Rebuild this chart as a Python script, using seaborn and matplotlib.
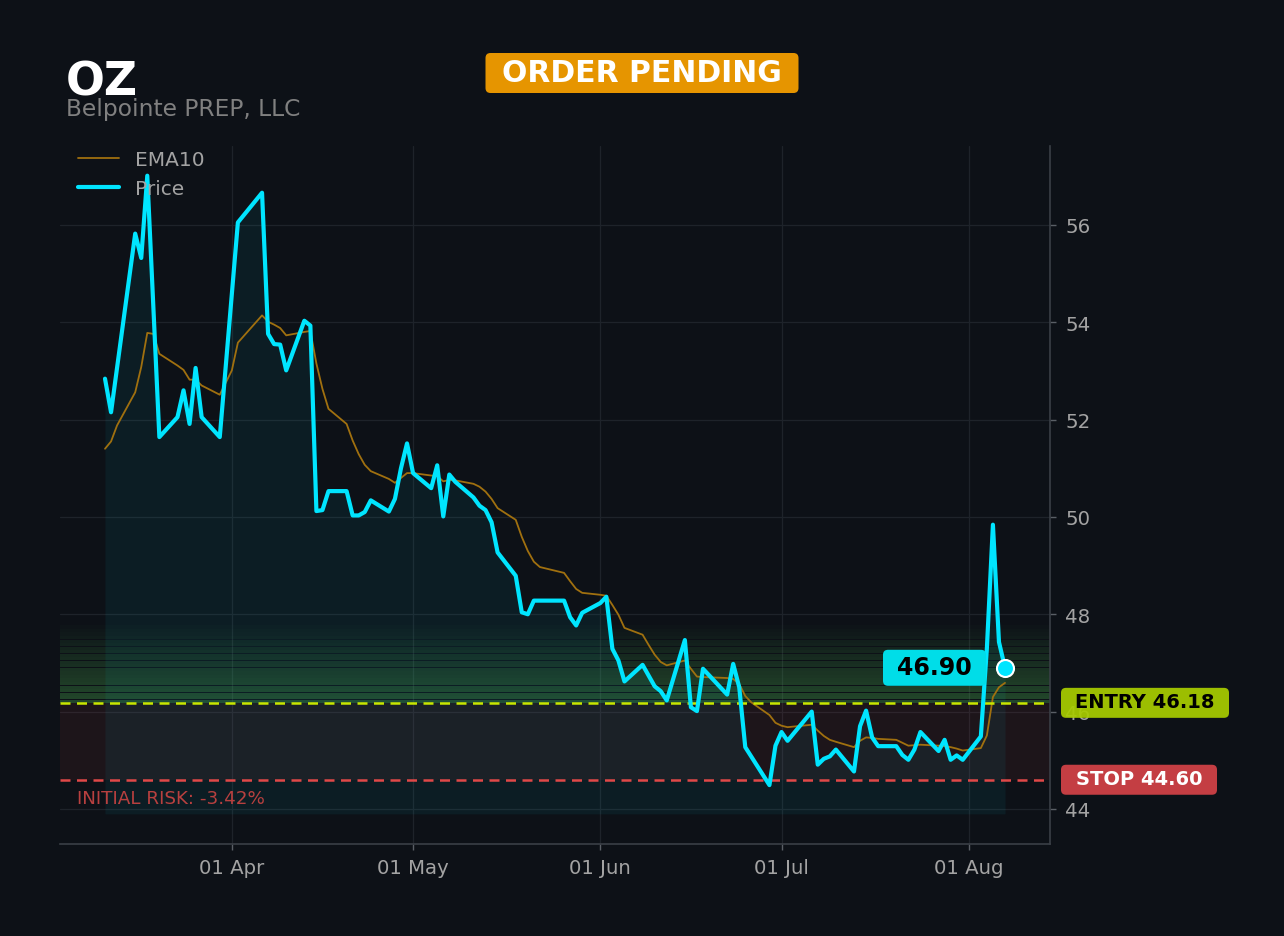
import matplotlib
matplotlib.use("Agg")
import numpy as np
import pandas as pd
import matplotlib.pyplot as plt
import matplotlib.dates as mdates
from matplotlib.patches import FancyBboxPatch
from matplotlib.transforms import IdentityTransform
import seaborn as sns

# ---------------- data ----------------
ticker = "OZ"
company = "Belpointe PREP, LLC"
status = "ORDER PENDING"
entry_price = 46.18
stop_price = 44.60
last_price = 46.90
fill_floor = 43.9

price_dates = [
    "2026-03-11", "2026-03-12", "2026-03-16", "2026-03-17", "2026-03-18", "2026-03-20",
    "2026-03-23", "2026-03-24", "2026-03-25", "2026-03-26", "2026-03-27", "2026-03-30",
    "2026-04-02", "2026-04-06", "2026-04-07", "2026-04-08", "2026-04-09", "2026-04-10",
    "2026-04-13", "2026-04-14", "2026-04-15", "2026-04-16", "2026-04-17", "2026-04-20",
    "2026-04-21", "2026-04-22", "2026-04-23", "2026-04-24", "2026-04-27", "2026-04-28",
    "2026-04-29", "2026-04-30", "2026-05-01", "2026-05-04", "2026-05-05", "2026-05-06",
    "2026-05-07", "2026-05-08", "2026-05-11", "2026-05-12", "2026-05-13", "2026-05-14",
    "2026-05-15", "2026-05-18", "2026-05-19", "2026-05-20", "2026-05-21", "2026-05-22",
    "2026-05-26", "2026-05-27", "2026-05-28", "2026-05-29", "2026-06-01", "2026-06-02",
    "2026-06-03", "2026-06-04", "2026-06-05", "2026-06-08", "2026-06-10", "2026-06-11",
    "2026-06-12", "2026-06-15", "2026-06-16", "2026-06-17", "2026-06-18", "2026-06-22",
    "2026-06-23", "2026-06-24", "2026-06-25", "2026-06-29", "2026-06-30", "2026-07-01",
    "2026-07-02", "2026-07-06", "2026-07-07", "2026-07-08", "2026-07-09", "2026-07-10",
    "2026-07-13", "2026-07-14", "2026-07-15", "2026-07-16", "2026-07-17", "2026-07-20",
    "2026-07-21", "2026-07-22", "2026-07-23", "2026-07-24", "2026-07-27", "2026-07-28",
    "2026-07-29", "2026-07-30", "2026-07-31", "2026-08-03", "2026-08-04", "2026-08-05",
    "2026-08-06", "2026-08-07",
]
price_values = [
    52.84, 52.15, 55.82, 55.32, 57.01, 51.64,
    52.05, 52.60, 51.91, 53.06, 52.05, 51.64,
    56.05, 56.66, 53.76, 53.55, 53.54, 53.01,
    54.03, 53.93, 50.12, 50.14, 50.53, 50.53,
    50.03, 50.03, 50.10, 50.34, 50.11, 50.37,
    51.00, 51.51, 50.90, 50.59, 51.06, 50.01,
    50.87, 50.72, 50.40, 50.23, 50.14, 49.89,
    49.27, 48.79, 48.04, 48.00, 48.28, 48.28,
    48.28, 47.94, 47.77, 48.03, 48.23, 48.36,
    47.29, 47.05, 46.62, 46.96, 46.52, 46.42,
    46.23, 47.47, 46.09, 46.01, 46.88, 46.35,
    46.98, 46.50, 45.27, 44.49, 45.30, 45.58,
    45.40, 46.00, 44.91, 45.03, 45.08, 45.22,
    44.77, 45.70, 46.02, 45.47, 45.29, 45.29,
    45.11, 45.01, 45.22, 45.58, 45.19, 45.42,
    45.01, 45.10, 45.01, 45.49, 47.30, 49.84,
    47.43, 46.90,
]

ema_dates = [
    "2026-03-11", "2026-03-12", "2026-03-13", "2026-03-16", "2026-03-17", "2026-03-18",
    "2026-03-19", "2026-03-20", "2026-03-23", "2026-03-24", "2026-03-25", "2026-03-26",
    "2026-03-27", "2026-03-30", "2026-04-01", "2026-04-02", "2026-04-06", "2026-04-07",
    "2026-04-08", "2026-04-09", "2026-04-10", "2026-04-13", "2026-04-14", "2026-04-15",
    "2026-04-16", "2026-04-17", "2026-04-20", "2026-04-21", "2026-04-22", "2026-04-23",
    "2026-04-24", "2026-04-27", "2026-04-28", "2026-04-29", "2026-04-30", "2026-05-01",
    "2026-05-04", "2026-05-05", "2026-05-06", "2026-05-07", "2026-05-08", "2026-05-11",
    "2026-05-12", "2026-05-13", "2026-05-14", "2026-05-15", "2026-05-18", "2026-05-19",
    "2026-05-20", "2026-05-21", "2026-05-22", "2026-05-26", "2026-05-27", "2026-05-28",
    "2026-05-29", "2026-06-01", "2026-06-02", "2026-06-03", "2026-06-04", "2026-06-05",
    "2026-06-08", "2026-06-09", "2026-06-10", "2026-06-11", "2026-06-12", "2026-06-15",
    "2026-06-16", "2026-06-17", "2026-06-18", "2026-06-22", "2026-06-23", "2026-06-24",
    "2026-06-25", "2026-06-26", "2026-06-29", "2026-06-30", "2026-07-01", "2026-07-02",
    "2026-07-06", "2026-07-07", "2026-07-08", "2026-07-09", "2026-07-10", "2026-07-13",
    "2026-07-14", "2026-07-15", "2026-07-16", "2026-07-17", "2026-07-20", "2026-07-21",
    "2026-07-22", "2026-07-23", "2026-07-24", "2026-07-27", "2026-07-28", "2026-07-29",
    "2026-07-30", "2026-07-31", "2026-08-03", "2026-08-04", "2026-08-05", "2026-08-06",
    "2026-08-07",
]
ema_values = [
    51.40, 51.55, 51.88, 52.56, 53.08, 53.78,
    53.76, 53.35, 53.11, 53.02, 52.82, 52.82,
    52.70, 52.51, 53.01, 53.58, 54.14, 54.01,
    53.95, 53.88, 53.73, 53.80, 53.82, 53.15,
    52.63, 52.22, 51.91, 51.57, 51.29, 51.07,
    50.94, 50.78, 50.70, 50.80, 50.90, 50.90,
    50.85, 50.84, 50.73, 50.76, 50.75, 50.68,
    50.62, 50.52, 50.37, 50.18, 49.94, 49.59,
    49.30, 49.08, 48.97, 48.85, 48.68, 48.52,
    48.44, 48.40, 48.38, 48.19, 47.99, 47.72,
    47.58, 47.37, 47.17, 47.02, 46.95, 47.05,
    46.88, 46.72, 46.71, 46.69, 46.67, 46.57,
    46.32, 46.19, 45.93, 45.77, 45.71, 45.68,
    45.73, 45.61, 45.50, 45.42, 45.38, 45.27,
    45.40, 45.47, 45.46, 45.44, 45.42, 45.36,
    45.30, 45.31, 45.32, 45.30, 45.29, 45.27,
    45.24, 45.20, 45.25, 45.51, 46.30, 46.50,
    46.59,
]

price_df = pd.DataFrame({"date": pd.to_datetime(price_dates), "price": price_values})
ema_df = pd.DataFrame({"date": pd.to_datetime(ema_dates), "ema": ema_values})

# ---------------- style ----------------
BG = "#0d1117"
GRID = "#1e232a"
TICK = "#a3a3a3"
CYAN = "#00e5ff"
EMA_C = "#a0700f"
ENTRY_C = "#c8e600"
STOP_C = "#e04848"

sns.set_theme(style="dark")
plt.rcParams["font.family"] = ["DejaVu Sans"]

W, H = 1284, 937
fig = plt.figure(figsize=(W / 100, H / 100), dpi=100, facecolor=BG)
ax = fig.add_axes([60 / W, 1 - 845 / H, 990 / W, 698 / H])
ax.set_facecolor(BG)

# zones
ax.axhspan(stop_price, entry_price, color="#e04545", alpha=0.08, lw=0, zorder=1)
n_bands = 22
band_top = entry_price + 1.6
edges = np.linspace(entry_price, band_top, n_bands + 1)
gap = (band_top - entry_price) / n_bands * 0.12
for i in range(n_bands):
    a = 0.34 * (1 - i / n_bands) ** 0.9
    ax.axhspan(edges[i], edges[i + 1] - gap, color="#4caf50", alpha=a, lw=0, zorder=1)

# price area
ax.fill_between(price_df["date"], price_df["price"], fill_floor, color=CYAN,
                alpha=0.06, lw=0, zorder=2)

sns.lineplot(data=ema_df, x="date", y="ema", ax=ax, color=EMA_C, lw=1.3,
             label="EMA10", zorder=3)
sns.lineplot(data=price_df, x="date", y="price", ax=ax, color=CYAN, lw=3.0,
             label="Price", zorder=5)

ax.axhline(entry_price, color=ENTRY_C, lw=1.8, ls=(0, (4, 2.6)), zorder=4)
ax.axhline(stop_price, color=STOP_C, lw=1.8, ls=(0, (4, 2.6)), zorder=4)

ax.scatter([price_df["date"].iloc[-1]], [price_df["price"].iloc[-1]], s=150,
           color=CYAN, edgecolor="white", linewidth=1.5, zorder=7)

# axes
ax.set_ylim(43.28, 57.62)
ax.set_xlim(price_df["date"].iloc[0] - pd.Timedelta(days=7.45),
            price_df["date"].iloc[-1] + pd.Timedelta(days=7.45))
ax.set_xlabel("")
ax.set_ylabel("")
ax.yaxis.tick_right()
ax.set_yticks([44, 46, 48, 50, 52, 54, 56])
ax.xaxis.set_major_locator(mdates.MonthLocator())
ax.xaxis.set_major_formatter(mdates.DateFormatter("%d %b"))
ax.tick_params(axis="both", colors="#5a5f66", labelcolor=TICK, labelsize=14.2,
               length=4, width=1, direction="out")
ax.tick_params(axis="x", pad=6, bottom=True)
ax.tick_params(axis="y", pad=7, right=True, left=False)
ax.grid(True, color=GRID, lw=0.9)
ax.set_axisbelow(True)
for s in ["top", "left"]:
    ax.spines[s].set_visible(False)
for s in ["right", "bottom"]:
    ax.spines[s].set_visible(True)
    ax.spines[s].set_color("#3a3f46")
    ax.spines[s].set_linewidth(1.2)

leg = ax.legend(loc="upper left", bbox_to_anchor=(0.0103, 1.006), borderaxespad=0,
                frameon=False, fontsize=14.5, handlelength=2.0, labelspacing=0.5)
for t in leg.get_texts():
    t.set_color(TICK)

# risk text
risk_pct = (stop_price - entry_price) / entry_price * 100
ax.text(0.017, stop_price - 0.38, f"INITIAL RISK: {risk_pct:.2f}%",
        transform=ax.get_yaxis_transform(), color="#b8403f", fontsize=13.2,
        va="center", ha="left", zorder=6)

# header texts
fig.text(66 / W, 1 - 95 / H, ticker, color="white", fontsize=33, fontweight="bold",
         va="baseline", ha="left")
fig.text(66 / W, 1 - 116 / H, company, color="#808080", fontsize=16.8,
         va="baseline", ha="left")

ident = IdentityTransform()


def pix_box(cx, cy, w, h, color, alpha=1.0, r=5):
    p = FancyBboxPatch((cx - w / 2, cy - h / 2), w, h,
                       boxstyle=f"round,pad=0,rounding_size={r}",
                       transform=ident, facecolor=color, edgecolor="none",
                       alpha=alpha, zorder=10)
    fig.add_artist(p)


# status badge
pix_box(642, H - 74, 313, 40, "#e69500")
fig.text(642 / W, 1 - 73 / H, status, color="white", fontsize=21.5, fontweight="bold",
         ha="center", va="center", zorder=11)

# right-side level labels
_, y_entry = ax.transData.transform((0, entry_price))
_, y_stop = ax.transData.transform((0, stop_price))
pix_box(1145, y_entry, 168, 30, "#a8cc00", alpha=0.93)
fig.text(1145 / W, (y_entry + 1) / H, f"ENTRY {entry_price:.2f}", color="black",
         fontsize=14, fontweight="bold", ha="center", va="center", zorder=11)
pix_box(1139, y_stop, 156, 30, "#cf4146", alpha=0.95)
fig.text(1139 / W, (y_stop + 1) / H, f"STOP {stop_price:.2f}", color="white",
         fontsize=14, fontweight="bold", ha="center", va="center", zorder=11)

# last price label
_, y_last = ax.transData.transform((0, last_price))
pix_box(934.5, y_last, 103, 36, "#00dde8")
fig.text(934.5 / W, (y_last + 1) / H, f"{last_price:.2f}", color="black", fontsize=17,
         fontweight="bold", ha="center", va="center", zorder=11)

fig.savefig("out.png", dpi=100, facecolor=BG)
